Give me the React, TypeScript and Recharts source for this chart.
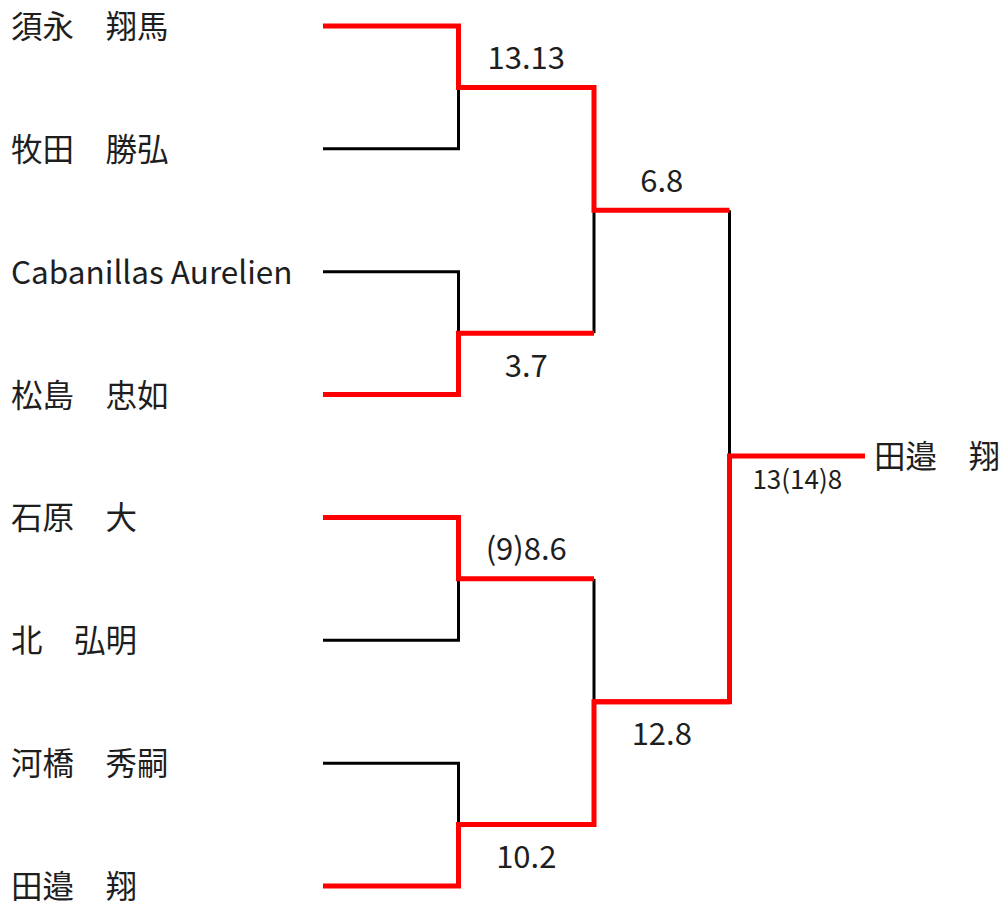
import React from 'react';
import { ComposedChart, Line, Scatter, XAxis, YAxis } from 'recharts';

// players in draw order (top to bottom)
const players = [
  '須永　翔馬',
  '牧田　勝弘',
  'Cabanillas Aurelien',
  '松島　忠如',
  '石原　大',
  '北　弘明',
  '河橋　秀嗣',
  '田邉　翔',
];

// winners per round (player index) and their scores
const round1Winners = [0, 3, 4, 7];
const round1Scores = ['13.13', '3.7', '(9)8.6', '10.2'];
const round2Winners = [0, 7];
const round2Scores = ['6.8', '12.8'];
const finalWinners = [7];
const finalScores = ['13(14)8'];

const rounds = [
  { winners: round1Winners, scores: round1Scores },
  { winners: round2Winners, scores: round2Scores },
  { winners: finalWinners, scores: finalScores },
];

const FONT = '"Noto Sans CJK JP", "Noto Sans", sans-serif';
const RED = '#ff0000';
const TEXT = '#1e1e1e';

type Pt = { x: number; y: number };

// build bracket segments from the results
const blackPaths: Pt[][] = [];
const redPaths: Pt[][] = [];
const scoreLabels: any[] = [];
let slots = players.map((_, i) => ({ player: i, y: i }));

rounds.forEach((round, r) => {
  const next: { player: number; y: number }[] = [];
  for (let m = 0; m < slots.length / 2; m++) {
    const a = slots[2 * m];
    const b = slots[2 * m + 1];
    const mid = (a.y + b.y) / 2;
    const winnerTop = round.winners[m] === a.player;
    const w = winnerTop ? a : b;
    const l = winnerTop ? b : a;
    if (r === 0) {
      blackPaths.push([{ x: r, y: l.y }, { x: r + 1, y: l.y }, { x: r + 1, y: mid }]);
    } else {
      blackPaths.push([{ x: r + 1, y: l.y }, { x: r + 1, y: mid }]);
    }
    redPaths.push([
      { x: r, y: w.y },
      { x: r + 1, y: w.y },
      { x: r + 1, y: mid },
      { x: r + 2, y: mid },
    ]);
    scoreLabels.push({
      x: r + 1.5,
      y: mid,
      label: round.scores[m],
      side: winnerTop ? -1 : 1,
      small: r === rounds.length - 1,
    });
    next.push({ player: w.player, y: mid });
  }
  slots = next;
});

const champion = [{ x: rounds.length + 1, y: slots[0].y, label: players[slots[0].player] }];

const ScoreShape = (props: any) => {
  const { cx, cy, payload } = props;
  const off = payload.small ? 22 : 31;
  return (
    <text
      x={cx}
      y={cy + payload.side * off - 1}
      textAnchor="middle"
      dominantBaseline="central"
      fontFamily={FONT}
      fontSize={payload.small ? 26 : 31}
      fill={TEXT}
    >
      {payload.label}
    </text>
  );
};

const ChampionShape = (props: any) => {
  const { cx, cy, payload } = props;
  return (
    <text x={cx + 9} y={cy - 2} textAnchor="start" dominantBaseline="central" fontFamily={FONT} fontSize={31.5} fill={TEXT}>
      {payload.label}
    </text>
  );
};

const NameTick = (props: any) => {
  const { y, payload } = props;
  return (
    <text x={11} y={y - 2} textAnchor="start" dominantBaseline="central" fontFamily={FONT} fontSize={31.5} fill={TEXT}>
      {players[payload.value]}
    </text>
  );
};

export default function App() {
  return (
    <div style={{ position: 'absolute', left: 0, top: 0, width: 1002, height: 902, background: '#fff' }}>
      <ComposedChart width={1002} height={902} margin={{ top: 26, right: 137, bottom: 16, left: 0 }}>
        <XAxis type="number" dataKey="x" domain={[0, 4]} hide />
        <YAxis
          type="number"
          dataKey="y"
          domain={[0, 7]}
          reversed
          ticks={players.map((_, i) => i)}
          interval={0}
          width={323}
          axisLine={false}
          tickLine={false}
          tick={<NameTick />}
        />
        {blackPaths.map((d, i) => (
          <Line
            key={'b' + i}
            data={d}
            dataKey="y"
            type="linear"
            stroke="#000"
            strokeWidth={3}
            dot={false}
            activeDot={false}
            isAnimationActive={false}
          />
        ))}
        {redPaths.map((d, i) => (
          <Line
            key={'r' + i}
            data={d}
            dataKey="y"
            type="linear"
            stroke={RED}
            strokeWidth={5}
            dot={false}
            activeDot={false}
            isAnimationActive={false}
          />
        ))}
        <Scatter data={scoreLabels} dataKey="y" shape={<ScoreShape />} isAnimationActive={false} />
        <Scatter data={champion} dataKey="y" shape={<ChampionShape />} isAnimationActive={false} />
      </ComposedChart>
    </div>
  );
}
